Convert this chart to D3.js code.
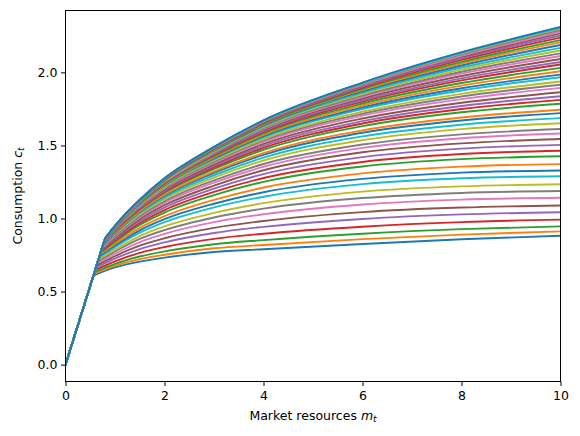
<!DOCTYPE html>
<html><head><meta charset="utf-8">
<script src="https://cdn.jsdelivr.net/npm/d3@7"></script>
<style>body{margin:0;background:#fff}svg{display:block}text{font-family:"DejaVu Sans",sans-serif}</style>
</head><body><svg id="c" width="580" height="436"></svg>
<script>
const mGrid = [1, 1.5, 2, 3, 4, 6, 8, 10];
const xTicks = [0, 2, 4, 6, 8, 10];
const yTicks = [0.0, 0.5, 1.0, 1.5, 2.0];
// kink where the borrowing constraint stops binding (m, c)
const kinkM = [0.565,0.575,0.586,0.600,0.615,0.628,0.643,0.655,0.667,0.680,0.689,0.698,0.710,0.717,0.725,0.732,0.739,0.744,0.750,0.755,0.760,0.763,0.768,0.771,0.774,0.777,0.780,0.782,0.784,0.786,0.788,0.789,0.791,0.792,0.793,0.795,0.796,0.796,0.797,0.798,0.798,0.799,0.799,0.799,0.800,0.800,0.800,0.800,0.800,0.800,0.800];
const kinkC = [0.610,0.621,0.633,0.648,0.664,0.678,0.694,0.707,0.720,0.734,0.744,0.754,0.767,0.774,0.783,0.791,0.798,0.804,0.810,0.815,0.821,0.824,0.829,0.833,0.836,0.839,0.842,0.845,0.847,0.849,0.851,0.852,0.854,0.855,0.856,0.859,0.860,0.860,0.861,0.862,0.862,0.863,0.863,0.863,0.864,0.864,0.864,0.864,0.864,0.864,0.864];
const cVals = [
[0.665,0.705,0.732,0.771,0.790,0.826,0.858,0.882],
[0.677,0.722,0.752,0.796,0.819,0.859,0.890,0.912],
[0.690,0.740,0.775,0.824,0.852,0.896,0.927,0.946],
[0.707,0.765,0.805,0.861,0.896,0.944,0.975,0.992],
[0.726,0.791,0.837,0.901,0.943,0.997,1.028,1.043],
[0.742,0.814,0.865,0.936,0.983,1.044,1.075,1.089],
[0.759,0.839,0.895,0.975,1.029,1.096,1.129,1.142],
[0.774,0.860,0.921,1.007,1.068,1.140,1.175,1.188],
[0.788,0.880,0.946,1.039,1.105,1.184,1.220,1.234],
[0.804,0.903,0.975,1.076,1.149,1.235,1.275,1.289],
[0.815,0.919,0.995,1.101,1.180,1.271,1.314,1.329],
[0.827,0.936,1.016,1.128,1.212,1.309,1.355,1.372],
[0.841,0.956,1.041,1.160,1.251,1.356,1.406,1.426],
[0.850,0.969,1.058,1.182,1.277,1.387,1.441,1.464],
[0.859,0.983,1.075,1.204,1.304,1.420,1.478,1.504],
[0.868,0.996,1.091,1.225,1.330,1.453,1.514,1.544],
[0.876,1.007,1.107,1.246,1.354,1.483,1.549,1.582],
[0.882,1.016,1.118,1.261,1.373,1.506,1.576,1.612],
[0.890,1.028,1.133,1.280,1.397,1.536,1.612,1.652],
[0.896,1.037,1.145,1.296,1.417,1.562,1.642,1.687],
[0.901,1.046,1.156,1.312,1.436,1.587,1.671,1.721],
[0.905,1.051,1.163,1.322,1.448,1.603,1.691,1.744],
[0.912,1.061,1.176,1.339,1.470,1.632,1.727,1.785],
[0.915,1.067,1.184,1.350,1.484,1.650,1.749,1.812],
[0.919,1.072,1.191,1.360,1.497,1.666,1.770,1.837],
[0.922,1.078,1.198,1.370,1.510,1.684,1.792,1.864],
[0.926,1.083,1.206,1.381,1.524,1.704,1.817,1.894],
[0.928,1.087,1.212,1.389,1.534,1.717,1.835,1.915],
[0.931,1.091,1.217,1.397,1.544,1.731,1.853,1.938],
[0.933,1.096,1.224,1.406,1.556,1.749,1.876,1.967],
[0.935,1.099,1.228,1.412,1.564,1.760,1.891,1.985],
[0.937,1.102,1.232,1.419,1.573,1.773,1.909,2.008],
[0.939,1.105,1.237,1.426,1.583,1.787,1.927,2.031],
[0.941,1.108,1.241,1.433,1.591,1.800,1.945,2.054],
[0.942,1.110,1.244,1.438,1.598,1.809,1.959,2.071],
[0.943,1.113,1.248,1.443,1.606,1.821,1.975,2.092],
[0.945,1.115,1.251,1.449,1.613,1.832,1.991,2.112],
[0.945,1.117,1.254,1.453,1.619,1.841,2.004,2.130],
[0.946,1.118,1.257,1.458,1.625,1.852,2.019,2.150],
[0.947,1.120,1.260,1.462,1.631,1.861,2.033,2.168],
[0.948,1.121,1.262,1.466,1.637,1.871,2.047,2.187],
[0.949,1.123,1.265,1.470,1.643,1.880,2.061,2.205],
[0.949,1.124,1.266,1.474,1.648,1.888,2.072,2.221],
[0.949,1.125,1.268,1.477,1.653,1.896,2.085,2.238],
[0.949,1.126,1.270,1.480,1.657,1.903,2.096,2.252],
[0.950,1.126,1.271,1.482,1.661,1.910,2.106,2.267],
[0.950,1.127,1.272,1.484,1.664,1.915,2.114,2.278],
[0.950,1.127,1.273,1.486,1.667,1.920,2.123,2.290],
[0.950,1.128,1.274,1.488,1.669,1.925,2.130,2.300],
[0.950,1.128,1.275,1.489,1.671,1.927,2.134,2.305],
[0.950,1.128,1.275,1.490,1.672,1.930,2.138,2.311]
];
const colors = ["#1f77b4","#ff7f0e","#2ca02c","#d62728","#9467bd","#8c564b","#e377c2","#7f7f7f","#bcbd22","#17becf"];

const L = 65.5, R = 560.5, T = 10.5, B = 381.5;
const svg = d3.select("#c");
const x = d3.scaleLinear().domain([0, 10]).range([L, R]);
const y = d3.scaleLinear().domain([-0.1154, 2.4234]).range([B, T]);

svg.append("defs").append("clipPath").attr("id","clip")
  .append("rect").attr("x", L).attr("y", T).attr("width", R - L).attr("height", B - T);

const lin = d3.line().x(d => x(d[0])).y(d => y(d[1]));
const mono = d3.line().x(d => x(d[0])).y(d => y(d[1])).curve(d3.curveMonotoneX);
const g = svg.append("g").attr("clip-path", "url(#clip)");
cVals.forEach((vals, i) => {
  const k = [kinkM[i], kinkC[i]];
  const rest = [k].concat(mGrid.map((m, j) => [m, vals[j]]));
  const d = lin([[0, 0], k]) + mono(rest).replace(/^M[^LC]*/, "");
  g.append("path").attr("d", d).attr("fill", "none")
    .attr("stroke", colors[i % 10]).attr("stroke-width", 1.9)
    .attr("stroke-linejoin", "round").attr("stroke-linecap", "square");
});

const xa = svg.append("g").attr("transform", `translate(0,${B})`)
  .call(d3.axisBottom(x).tickValues(xTicks).tickSize(4.5).tickPadding(5.5).tickFormat(d3.format("d")));
const ya = svg.append("g").attr("transform", `translate(${L},0)`)
  .call(d3.axisLeft(y).tickValues(yTicks).tickSize(4.5).tickPadding(3.5).tickFormat(d3.format(".1f")));
[xa, ya].forEach(a => {
  a.select(".domain").remove();
  a.selectAll("line").attr("stroke", "#000").attr("stroke-width", 1);
  a.selectAll("text").attr("font-size", 12.5).attr("fill", "#000").attr("font-family", "DejaVu Sans");
});
svg.append("rect").attr("x", L).attr("y", T).attr("width", R - L).attr("height", B - T)
  .attr("fill", "none").attr("stroke", "#000").attr("stroke-width", 1);

const xl = svg.append("text").attr("x", (L + R) / 2).attr("y", 420).attr("text-anchor", "middle")
  .attr("font-size", 12.5).attr("fill", "#000");
xl.append("tspan").text("Market resources ");
xl.append("tspan").attr("font-style", "italic").text("m");
xl.append("tspan").attr("font-size", 9).attr("dy", 2).attr("font-style", "italic").text("t");

const yl = svg.append("text").attr("transform", `translate(22,${(T + B) / 2}) rotate(-90)`)
  .attr("text-anchor", "middle").attr("font-size", 12.5).attr("fill", "#000");
yl.append("tspan").text("Consumption ");
yl.append("tspan").attr("font-style", "italic").text("c");
yl.append("tspan").attr("font-size", 9).attr("dy", 2).attr("font-style", "italic").text("t");
</script></body></html>
